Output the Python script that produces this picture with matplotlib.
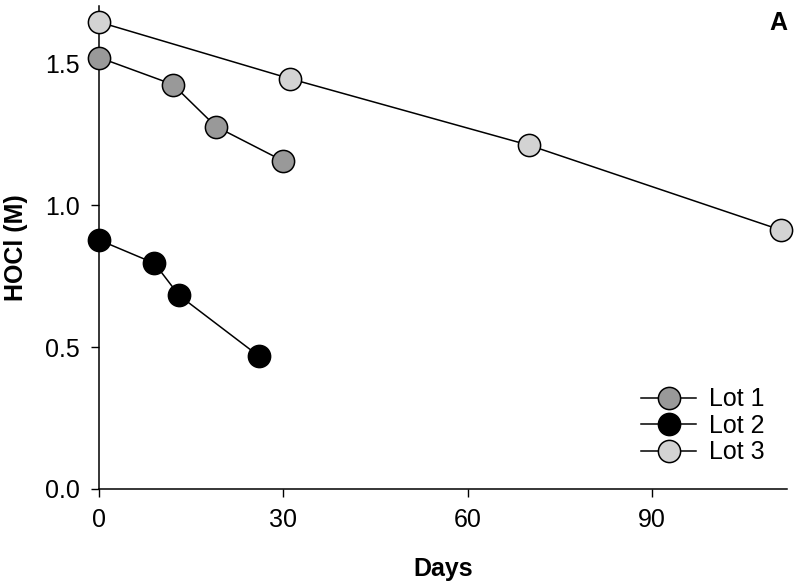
import matplotlib
matplotlib.use("Agg")
import matplotlib.pyplot as plt

plt.rcParams['font.family'] = ['Liberation Sans', 'DejaVu Sans']

# HOCl concentration (M) vs storage time (days)
lot1_days = [0, 12, 19, 30]
lot1_hocl = [1.52, 1.425, 1.277, 1.155]
lot2_days = [0, 9, 13, 26]
lot2_hocl = [0.877, 0.795, 0.682, 0.468]
lot3_days = [0, 31, 70, 111]
lot3_hocl = [1.645, 1.446, 1.211, 0.912]

xticks = [0, 30, 60, 90]
yticks = [0.0, 0.5, 1.0, 1.5]

fig = plt.figure(figsize=(8, 5.87), dpi=100)
ax = fig.add_axes([0.124, 0.167, 0.86, 0.822])

ms = 16
ax.plot(lot1_days, lot1_hocl, '-o', color='black', lw=1.1, ms=ms,
        mfc='#999999', mec='black', mew=1.1, label='Lot 1', clip_on=False, zorder=3)
ax.plot(lot2_days, lot2_hocl, '-o', color='black', lw=1.1, ms=ms,
        mfc='black', mec='black', mew=1.1, label='Lot 2', clip_on=False, zorder=3)
ax.plot(lot3_days, lot3_hocl, '-o', color='black', lw=1.1, ms=ms,
        mfc='#d3d3d3', mec='black', mew=1.1, label='Lot 3', clip_on=False, zorder=3)

ax.set_xlim(0, 112)
ax.set_ylim(0, 1.7)
ax.set_xticks(xticks)
ax.set_yticks(yticks)
ax.set_yticklabels(['%.1f' % v for v in yticks])
ax.tick_params(direction='out', length=6, width=1, labelsize=18, pad=8)

ax.spines['top'].set_visible(False)
ax.spines['right'].set_visible(False)
ax.spines['left'].set_linewidth(1.1)
ax.spines['bottom'].set_linewidth(1.1)

ax.set_xlabel('Days', fontsize=18, fontweight='bold', labelpad=18)
ax.set_ylabel('HOCl (M)', fontsize=18, fontweight='bold', labelpad=12)

ax.text(1.0, 0.99, 'A', transform=ax.transAxes, ha='right', va='top',
        fontsize=18, fontweight='bold')

leg = ax.legend(loc='lower right', bbox_to_anchor=(0.985, 0.025), frameon=False,
                fontsize=18, handlelength=2.2, handletextpad=0.5,
                labelspacing=0.1, borderpad=0)

fig.savefig('out.png', dpi=100)
